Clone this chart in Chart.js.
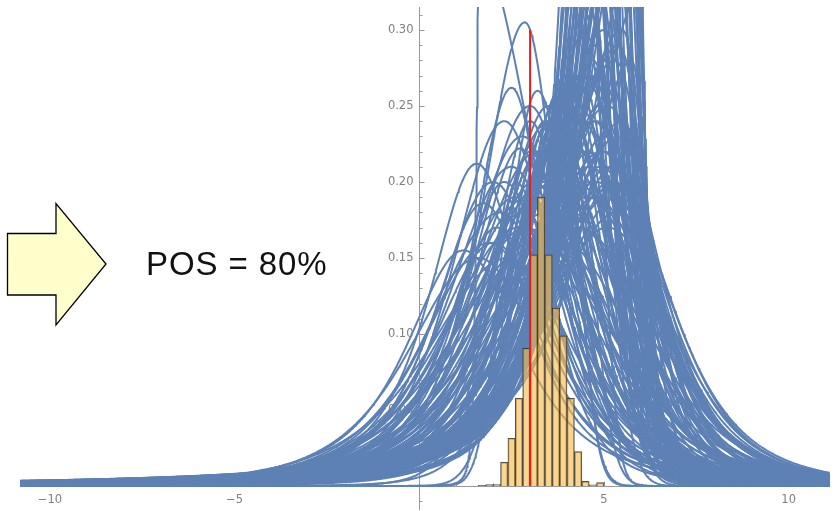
<!DOCTYPE html>
<html>
<head>
<meta charset="utf-8">
<script src="https://cdn.jsdelivr.net/npm/chart.js@4.4.1/dist/chart.umd.min.js"></script>
<style>
  html, body { margin: 0; padding: 0; background: #fff; }
  #wrap { position: relative; width: 840px; height: 511px; overflow: hidden; }
  #chart { position: absolute; left: 0; top: 0; }
  #arrow { position: absolute; left: 0; top: 0; }
  #pos {
    position: absolute; left: 146px; top: 247px;
    font-family: "Liberation Sans", Arial, sans-serif; font-size: 33px; line-height: 33px;
    letter-spacing: 0.9px; color: #111; white-space: nowrap;
  }
</style>
</head>
<body>
<div id="wrap">
  <canvas id="chart" width="840" height="511"></canvas>
  <svg id="arrow" width="120" height="340" xmlns="http://www.w3.org/2000/svg">
    <polygon points="7.5,233.5 56,233.5 56,203.5 106,264 56,325 56,295 7.5,295"
             fill="#ffffcc" stroke="#000" stroke-width="1.3" stroke-linejoin="miter"/>
  </svg>
  <div id="pos">POS = 80%</div>
</div>
<script>
// ---- Predictive densities, one entry per curve:
//      peak position, peak height, spread left/right of the peak,
//      tail heaviness left/right (1 = Cauchy-like ... 50 = Gaussian-like)
const peakX = [
  // tall, sharply peaked
  4.4, 4.5, 4.55, 4.6, 4.65, 4.7, 4.75, 4.8, 4.85, 4.9, 4.95, 5.0, 5.05, 5.1, 5.15, 5.2, 5.25, 5.3, 5.35, 5.4,
  5.45, 5.5, 5.55, 5.6, 5.65, 5.7, 5.75, 5.8, 5.85, 4.45, 4.6, 5.0, 5.3, 4.9,
  // moderate
  2.6, 2.9, 3.1, 3.3, 3.4, 3.5, 3.6, 3.7, 3.75, 3.85, 3.95, 4.0, 4.1, 4.2, 4.25, 4.3, 4.4, 4.5, 4.55, 4.6,
  4.7, 4.75, 4.85, 4.9, 5.0, 5.0, 5.1, 5.2, 5.3, 5.4, 5.5, 5.3,
  // low-lying, left of the bulk
  1.55, 1.73, 2.86, 2.5, 2.73, 1.2, 2.1, 1.62,
  // light-tailed
  3.5, 2.6, 3.2, 4.5, 3.9, 4.1, 4.5, 3.8, 4.5, 3.0, 4.8,
  // assorted
  2.3, 2.0, 3.0, 3.2, 2.8, 3.4, 3.6, 4.05, 5.15, 5.75, 5.9, 4.65, 3.3, 5.35,
  // broad
  1.9, 2.2, 2.4, 2.5, 2.7, 2.8, 2.95, 3.0, 3.1, 3.2, 3.3, 3.4, 3.45, 3.55, 3.6, 3.7, 3.8, 3.85, 3.9, 4.0,
  4.05, 4.1, 4.2, 4.25, 4.3, 4.35, 4.45, 4.5, 4.55, 4.65, 4.7, 4.8, 4.85, 4.95, 5.0, 5.1, 5.2, 5.3, 5.4, 5.5,
  2.0, 1.6, 2.3, 3.5,
  // broad, right-leaning
  5.0, 5.2, 4.8, 5.4, 4.6, 5.1
];
const peakY = [
  0.42, 0.36, 0.55, 0.40, 0.48, 0.34, 0.62, 0.40, 0.52, 0.36, 0.45, 0.70, 0.39, 0.50, 0.35, 0.58, 0.42, 0.37, 0.55, 0.45,
  0.36, 0.65, 0.40, 0.50, 0.38, 0.60, 0.44, 0.35, 0.50, 0.33, 0.75, 0.90, 0.80, 0.33,
  0.19, 0.17, 0.20, 0.22, 0.18, 0.25, 0.20, 0.24, 0.16, 0.23, 0.27, 0.19, 0.26, 0.21, 0.27, 0.17, 0.24, 0.20, 0.27, 0.22,
  0.28, 0.19, 0.25, 0.21, 0.28, 0.23, 0.19, 0.26, 0.21, 0.29, 0.24, 0.20,
  0.212, 0.186, 0.305, 0.262, 0.222, 0.155, 0.17, 0.35,
  0.24, 0.20, 0.26, 0.40, 0.25, 0.26, 0.30, 0.26, 0.26, 0.24, 0.29,
  0.20, 0.16, 0.22, 0.19, 0.18, 0.24, 0.25, 0.25, 0.33, 0.28, 0.32, 0.31, 0.16, 0.18,
  0.16, 0.18, 0.15, 0.21, 0.17, 0.23, 0.19, 0.25, 0.16, 0.22, 0.22, 0.20, 0.17, 0.24, 0.24, 0.19, 0.23, 0.21, 0.16, 0.25,
  0.23, 0.18, 0.27, 0.20, 0.25, 0.17, 0.27, 0.22, 0.19, 0.27, 0.24, 0.20, 0.27, 0.22, 0.30, 0.25, 0.21, 0.28, 0.23, 0.30,
  0.20, 0.15, 0.24, 0.15,
  0.22, 0.20, 0.24, 0.19, 0.21, 0.17
];
const widthL = [
  0.85, 1.0, 0.8, 1.0, 0.85, 1.2, 0.75, 1.0, 0.95, 1.2, 1.05, 0.8, 1.2, 1.05, 1.35, 1.0, 1.2, 1.4, 1.1, 1.2,
  1.5, 1.1, 1.45, 1.25, 1.55, 1.2, 1.45, 1.65, 1.35, 1.0, 0.7, 0.75, 0.9, 1.1,
  1.9, 2.1, 1.7, 1.6, 2.0, 1.5, 1.8, 1.35, 2.2, 1.6, 1.3, 1.9, 1.45, 1.7, 1.3, 2.1, 1.55, 1.8, 1.4, 1.6,
  1.3, 1.8, 1.5, 1.7, 1.35, 1.6, 1.9, 1.7, 1.9, 1.8, 2.0, 1.9,
  1.4, 1.5, 1.3, 1.2, 1.4, 1.7, 1.5, 0.08,
  1.0, 0.5, 0.8, 1.0, 1.2, 1.3, 1.3, 1.1, 1.3, 1.0, 1.5,
  1.4, 1.8, 1.2, 1.9, 1.9, 1.1, 1.0, 1.5, 1.4, 1.7, 1.6, 1.2, 2.0, 2.1,
  1.9, 2.0, 2.3, 1.8, 2.2, 1.7, 2.1, 1.6, 2.4, 1.9, 1.5, 2.1, 2.4, 1.8, 1.45, 2.2, 1.7, 2.0, 2.5, 1.6,
  1.9, 2.3, 1.55, 2.1, 1.8, 2.4, 1.7, 2.0, 2.2, 1.6, 1.9, 2.1, 1.75, 2.0, 1.65, 1.9, 2.1, 1.8, 2.0, 1.75,
  1.6, 2.0, 1.5, 2.6,
  1.7, 1.9, 1.6, 2.0, 1.8, 2.1
];
const widthR = [
  0.6, 0.7, 0.5, 0.6, 0.45, 0.8, 0.4, 0.6, 0.5, 0.7, 0.45, 0.35, 0.55, 0.45, 0.6, 0.4, 0.5, 0.55, 0.38, 0.42,
  0.5, 0.33, 0.42, 0.36, 0.4, 0.3, 0.33, 0.35, 0.22, 0.9, 0.45, 0.3, 0.3, 0.6,
  1.6, 1.8, 1.5, 1.3, 1.7, 1.2, 1.4, 1.1, 1.9, 1.25, 1.0, 1.6, 1.15, 1.45, 1.0, 1.9, 1.3, 1.7, 1.1, 1.5,
  0.9, 1.8, 1.25, 1.6, 1.0, 1.4, 1.7, 1.1, 1.3, 0.85, 1.0, 1.3,
  1.4, 1.5, 0.9, 1.0, 1.2, 1.7, 1.6, 1.7,
  0.9, 1.2, 1.0, 0.4, 0.45, 0.55, 0.6, 0.5, 0.7, 1.1, 0.6,
  1.5, 1.8, 1.1, 1.4, 1.6, 0.95, 0.8, 1.2, 0.6, 0.5, 0.28, 0.75, 2.0, 1.5,
  1.7, 1.6, 1.9, 1.5, 1.8, 1.4, 1.7, 1.3, 2.0, 1.5, 1.2, 1.7, 1.9, 1.4, 1.1, 1.8, 1.3, 1.6, 2.0, 1.2,
  1.5, 1.9, 1.1, 1.7, 1.4, 2.0, 1.3, 1.75, 1.85, 1.15, 1.6, 1.75, 1.3, 1.55, 1.05, 1.45, 1.5, 1.0, 1.15, 0.75,
  1.5, 1.8, 1.4, 2.1,
  1.7, 1.75, 1.6, 1.65, 1.8, 1.9
];
const tailL = [
  1, 1, 1, 2, 1, 1, 1, 1, 2, 1, 1, 1, 1, 2, 1, 1, 1, 1, 1, 2,
  1, 1, 1, 1, 1, 1, 1, 1, 1, 1, 1, 1, 1, 1,
  2, 2, 2, 2, 2, 2, 2, 2, 2, 2, 1, 2, 1, 2, 1, 2, 2, 2, 1, 2,
  1, 2, 1, 2, 1, 2, 2, 2, 2, 2, 2, 2,
  2, 2, 2, 2, 2, 2, 2, 2,
  5, 50, 50, 2, 3, 3, 2, 3, 1, 8, 2,
  2, 2, 2, 2, 2, 2, 1, 2, 1, 1, 1, 1, 2, 2,
  3, 3, 3, 3, 3, 3, 3, 3, 3, 3, 3, 3, 3, 3, 3, 3, 3, 3, 3, 3,
  3, 3, 3, 3, 3, 3, 3, 3, 3, 3, 3, 3, 3, 3, 3, 3, 3, 3, 3, 3,
  3, 3, 3, 3,
  3, 3, 3, 3, 3, 3
];
const tailR = [
  3, 3, 4, 3, 3, 3, 4, 3, 3, 3, 4, 3, 3, 3, 3, 4, 3, 3, 4, 3,
  3, 4, 3, 3, 3, 4, 3, 3, 4, 2, 3, 3, 4, 3,
  2, 3, 3, 3, 3, 3, 2, 3, 3, 3, 4, 3, 3, 3, 3, 3, 3, 3, 4, 3,
  3, 3, 3, 3, 3, 3, 3, 3, 4, 3, 3, 3,
  2, 2, 3, 3, 3, 2, 2, 2,
  3, 2, 3, 50, 50, 50, 50, 50, 20, 3, 50,
  2, 2, 3, 3, 2, 3, 3, 3, 3, 3, 4, 3, 3, 3,
  3, 3, 3, 3, 3, 3, 3, 3, 3, 3, 3, 3, 3, 3, 3, 3, 3, 3, 3, 3,
  3, 3, 3, 3, 3, 3, 3, 3, 3, 3, 3, 3, 3, 3, 3, 3, 3, 3, 3, 3,
  3, 3, 3, 3,
  3, 3, 3, 3, 3, 4
];

// ---- Histogram of the simulated estimate (bins of width 0.2, probability per bin)
const binStart = [1.6, 1.8, 2.0, 2.2, 2.4, 2.6, 2.8, 3.0, 3.2, 3.4, 3.6, 3.8, 4.0, 4.2, 4.4, 4.6, 4.8];
const binProb  = [0.0005, 0.001, 0.001, 0.0156, 0.0314, 0.0577, 0.0906, 0.152, 0.190, 0.152, 0.117, 0.0987, 0.0577, 0.0226, 0.003, 0.0008, 0.0022];
const binWidth = 0.2;

// ---- Reference value marked in red
const refValue = 3;
const refTop = 0.30;

// ---- Axis ticks
const xTickLabels = [-10, -5, 5, 10];
const xMinorTicks = [-10, -9, -8, -7, -6, -5, -4, -3, -2, -1, 1, 2, 3, 4, 5, 6, 7, 8, 9, 10, 11];
const yTickLabels = [0.05, 0.10, 0.15, 0.20, 0.25, 0.30];
const yMinorTicks = [-0.01, 0.01, 0.02, 0.03, 0.04, 0.05, 0.06, 0.07, 0.08, 0.09, 0.10, 0.11, 0.12, 0.13, 0.14, 0.15,
                     0.16, 0.17, 0.18, 0.19, 0.20, 0.21, 0.22, 0.23, 0.24, 0.25, 0.26, 0.27, 0.28, 0.29, 0.30, 0.31];

// Plot range
const X_MIN = -10.81, X_MAX = 11.12, Y_MIN = -0.0158, Y_MAX = 0.3151;

function tailShape(z, nu) {
  return nu >= 50 ? Math.exp(-z * z / 2) : Math.pow(1 + z * z / nu, -(nu + 1) / 2);
}
function density(i, x) {
  const d = x - peakX[i];
  if (d < 0) return peakY[i] * tailShape(d / widthL[i], tailL[i]);
  return peakY[i] * tailShape(d / widthR[i], tailR[i]);
}
// sample each density on a base grid, refined near its peak
function curvePoints(i) {
  const xs = [];
  for (let x = X_MIN; x <= X_MAX + 1e-9; x += 0.04) xs.push(x);
  const m = peakX[i];
  const sl = widthL[i] / 14, sr = widthR[i] / 14;
  for (let x = m - 7 * widthL[i]; x < m; x += sl) if (x > X_MIN) xs.push(x);
  for (let x = m; x <= m + 7 * widthR[i]; x += sr) if (x < X_MAX) xs.push(x);
  xs.sort((a, b) => a - b);
  const pts = [];
  let prev = -Infinity;
  for (const x of xs) {
    if (x - prev < 1e-6) continue;
    prev = x;
    pts.push({ x: x, y: density(i, x) });
  }
  return pts;
}

const CURVE_COLOR = '#5e81b5';
const datasets = [];

datasets.push({
  type: 'line',
  label: 'reference',
  data: [{ x: refValue, y: 0 }, { x: refValue, y: refTop }],
  borderColor: '#ee1c1c',
  borderWidth: 2,
  pointRadius: 0,
  order: 0,
  clip: 0
});

datasets.push({
  type: 'bar',
  label: 'histogram',
  data: binStart.map((s, i) => ({ x: s + binWidth / 2, y: binProb[i] })),
  backgroundColor: 'rgba(246, 188, 80, 0.62)',
  borderColor: 'rgba(60, 50, 35, 0.85)',
  borderWidth: 1,
  barPercentage: 1,
  categoryPercentage: 1,
  order: 1
});

for (let i = 0; i < peakX.length; i++) {
  datasets.push({
    type: 'line',
    label: 'curve ' + (i + 1),
    data: curvePoints(i),
    parsing: false,
    normalized: true,
    borderColor: CURVE_COLOR,
    borderWidth: 2,
    pointRadius: 0,
    tension: 0,
    fill: false,
    borderJoinStyle: 'round',
    order: 2,
    clip: 0
  });
}

const AXIS_COLOR = '#999999';
const LABEL_COLOR = '#808080';

const axesPlugin = {
  id: 'crossAxes',
  beforeDatasetsDraw(chart) {
    const { ctx, chartArea, scales } = chart;
    const xs = scales.x, ys = scales.y;
    const x0 = Math.round(xs.getPixelForValue(0)) + 0.5;
    const y0 = Math.round(ys.getPixelForValue(0)) + 0.5;
    ctx.save();
    ctx.strokeStyle = AXIS_COLOR;
    ctx.lineWidth = 1;
    ctx.beginPath();
    ctx.moveTo(chartArea.left, y0); ctx.lineTo(chartArea.right, y0);
    ctx.moveTo(x0, chartArea.top); ctx.lineTo(x0, chartArea.bottom);
    xMinorTicks.forEach(v => {
      const px = Math.round(xs.getPixelForValue(v)) + 0.5;
      const len = xTickLabels.includes(v) ? 5 : 3;
      ctx.moveTo(px, y0); ctx.lineTo(px, y0 - len);
    });
    yMinorTicks.forEach(v => {
      const py = Math.round(ys.getPixelForValue(v)) + 0.5;
      const major = yTickLabels.some(t => Math.abs(t - v) < 1e-9);
      ctx.moveTo(x0, py); ctx.lineTo(x0 + (major ? 5 : 3), py);
    });
    ctx.stroke();

    ctx.fillStyle = LABEL_COLOR;
    ctx.font = '11.5px "DejaVu Sans", sans-serif';
    ctx.textAlign = 'center';
    ctx.textBaseline = 'middle';
    xTickLabels.forEach(v => {
      const txt = v < 0 ? '\u2212' + Math.abs(v) : String(v);
      ctx.fillText(txt, xs.getPixelForValue(v), y0 + 14);
    });
    ctx.textAlign = 'right';
    yTickLabels.forEach(v => {
      ctx.fillText(v.toFixed(2), x0 - 6, ys.getPixelForValue(v));
    });
    ctx.restore();
  }
};

new Chart(document.getElementById('chart'), {
  type: 'line',
  data: { datasets: datasets },
  options: {
    responsive: false,
    animation: false,
    events: [],
    layout: { padding: { left: 20, right: 10, top: 7, bottom: 1 } },
    plugins: { legend: { display: false }, tooltip: { enabled: false } },
    scales: {
      x: { type: 'linear', min: X_MIN, max: X_MAX, offset: false, display: false },
      y: { type: 'linear', min: Y_MIN, max: Y_MAX, display: false }
    }
  },
  plugins: [axesPlugin]
});
</script>
</body>
</html>
